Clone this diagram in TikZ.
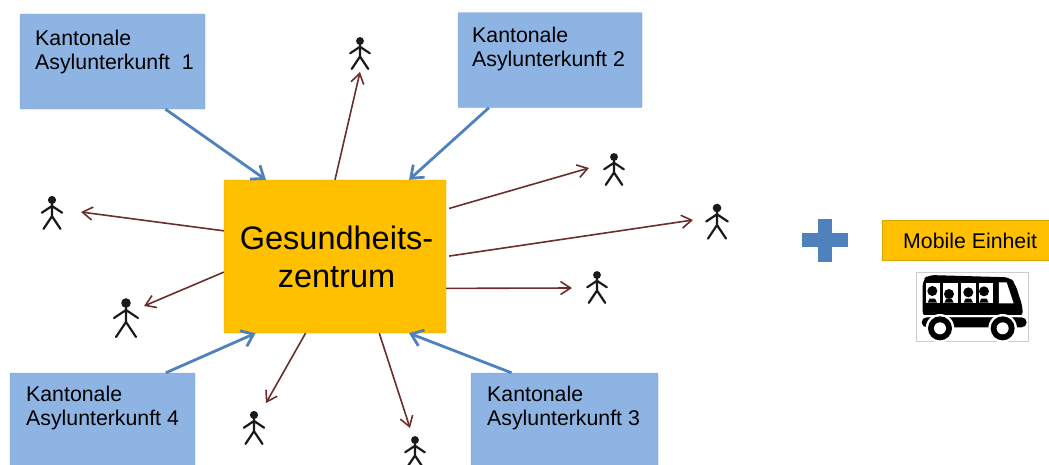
\documentclass[tikz,border=0pt]{standalone}
\usepackage{fontspec}
\setmainfont{Liberation Sans}
\usetikzlibrary{arrows.meta}
\definecolor{boxblue}{HTML}{8EB4E3}
\definecolor{arrowblue}{HTML}{4F81BD}
\definecolor{gold}{HTML}{FFC000}
\definecolor{maroon}{HTML}{6B2D2D}
\definecolor{inkk}{HTML}{1A1A1A}
\tikzset{
  x=1pt,y=-1pt,
  unitbox/.style={draw=boxblue!90!black,line width=0.4pt,fill=boxblue,rounded corners=1pt,minimum width=#1,minimum height=95pt,inner sep=0pt},
  unitbox/.default=185pt,
  unitlabel/.style={anchor=north west,align=left,inner sep=0pt,font=\fontsize{21.3}{24}\selectfont,text=black},
  inflow/.style={draw=arrowblue,line width=2.8pt,-{Straight Barb[length=11pt,width=17pt,line width=2.8pt]}},
  outflow/.style={draw=maroon,line width=1.6pt,-{Straight Barb[length=10pt,width=13pt,line width=1.6pt]}},
  person/.pic={
    \fill[inkk] (0,0) circle (4.8);
    \draw[inkk,line width=2.2pt,line cap=round,line join=round]
      (0,0) -- (0,19) (-12,15) -- (0,7) -- (12,15) (-10,34) -- (0,19) -- (10,34);
  },
}
\begin{document}
\begin{tikzpicture}
\useasboundingbox (0,0) rectangle (1049,464);
\clip (0,0) rectangle (1049,464);
% centre
\node[draw=gold!85!black,line width=0.4pt,fill=gold,rounded corners=1pt,minimum width=222pt,minimum height=153pt,inner sep=0pt] (gz) at (335,256.5) {};
\node[align=center,inner sep=0pt,font=\fontsize{32.5}{38}\selectfont] (gzt) at (336.5,256.5) {Gesundheits-\\zentrum};
% units
\node[unitbox=185pt] (k1) at (112.5,61.5) {};
\node[unitbox=184pt] (k2) at (550,60) {};
\node[unitbox=187pt] (k3) at (564.5,420.5) {};
\node[unitbox=185pt] (k4) at (102.5,420.5) {};
\node[unitlabel] (t1) at (35,30) {Kantonale\\Asylunterkunft\ \ 1};
\node[unitlabel] (t2) at (472,27) {Kantonale\\Asylunterkunft 2};
\node[unitlabel] (t3) at (487,386) {Kantonale\\Asylunterkunft 3};
\node[unitlabel] (t4) at (26,386) {Kantonale\\Asylunterkunft 4};
% people
\path (360,41) pic[scale=0.82] {person};
\path (614,157) pic[scale=0.82] {person};
\path (717,208) pic[scale=0.9] {person};
\path (597,275) pic[scale=0.82] {person};
\path (52,200) pic[scale=0.85] {person};
\path (126,303) pic {person};
\path (254,415) pic[scale=0.85] {person};
\path (415,440) pic[scale=0.82] {person};
\coordinate (e1) at (360,72);
\coordinate (e2) at (589,168);
\coordinate (e3) at (693,220);
\coordinate (e4) at (572,288);
\coordinate (e5) at (81,212);
\coordinate (e6) at (144,306);
\coordinate (e7) at (266,403);
\coordinate (e8) at (410,428);
% outflow
\draw[outflow] (gz.90) -- (e1);
\draw[outflow,shorten <=3pt] (gz.23.4) -- (e2);
\draw[outflow,shorten <=3pt] (gz.0) -- (e3);
\draw[outflow] (gz.-16.6) -- (e4);
\draw[outflow] (gz.167.3) -- (e5);
\draw[outflow] (gz.188.7) -- (e6);
\draw[outflow] (gz.249.2) -- (e7);
\draw[outflow] (gz.-60.7) -- (e8);
% inflow
\draw[inflow] (k1.-42.7) -- (gz.132.5);
\draw[inflow] (k2.-142.4) -- (gz.46);
\draw[inflow] (k3.138.9) -- (gz.-46.5);
\draw[inflow] (k4.37.2) -- (gz.224.1);
% plus
\fill[arrowblue] (802,233) rectangle (848,247);
\fill[arrowblue] (818,219) rectangle (832,262);
% mobile unit
\node[fill=gold,draw=gold!85!black,line width=0.3pt,minimum width=170pt,minimum height=40pt,inner sep=0pt,anchor=north west] (mu) at (882,220) {};
\node[anchor=west,inner sep=0pt,font=\fontsize{21.3}{24}\selectfont] (mt) at (903,240.5) {Mobile Einheit};
% bus, in 3x coordinates
\begin{scope}[shift={(800,200)},x=0.3333pt,y=-0.3333pt]
\draw[black!20,line width=0.4pt] (349,218) rectangle (686,423);
\fill[black,rounded corners=6pt] (368,352) -- (368,240) -- (385,225) -- (630,232) -- (645,250) -- (668,320) -- (668,352) -- cycle;
\fill[black,rounded corners=5pt] (365,352) rectangle (680,382);
\fill[white] (364,346) rectangle (672,350);
\foreach \xa/\xb in {379/421,430/474,482/529,537/578}{
  \fill[white] (\xa,248) rectangle (\xb,308);
}
\fill[white] (597,247) -- (620,247) -- (641,310) -- (597,310) -- cycle;
\foreach \hx/\hy in {397/273,447/282,505/277,552/274}{
  \fill[black] (\hx,\hy) circle (15);
  \fill[black] (\hx-14,308) -- (\hx-8,296) -- (\hx+8,296) -- (\hx+14,308) -- cycle;
}
\foreach \wx in {420,608}{
  \fill[white] (\wx,385) circle (43);
  \fill[black] (\wx,385) circle (36);
  \fill[white] (\wx,385) circle (18);
}
\end{scope}
\end{tikzpicture}
\end{document}
